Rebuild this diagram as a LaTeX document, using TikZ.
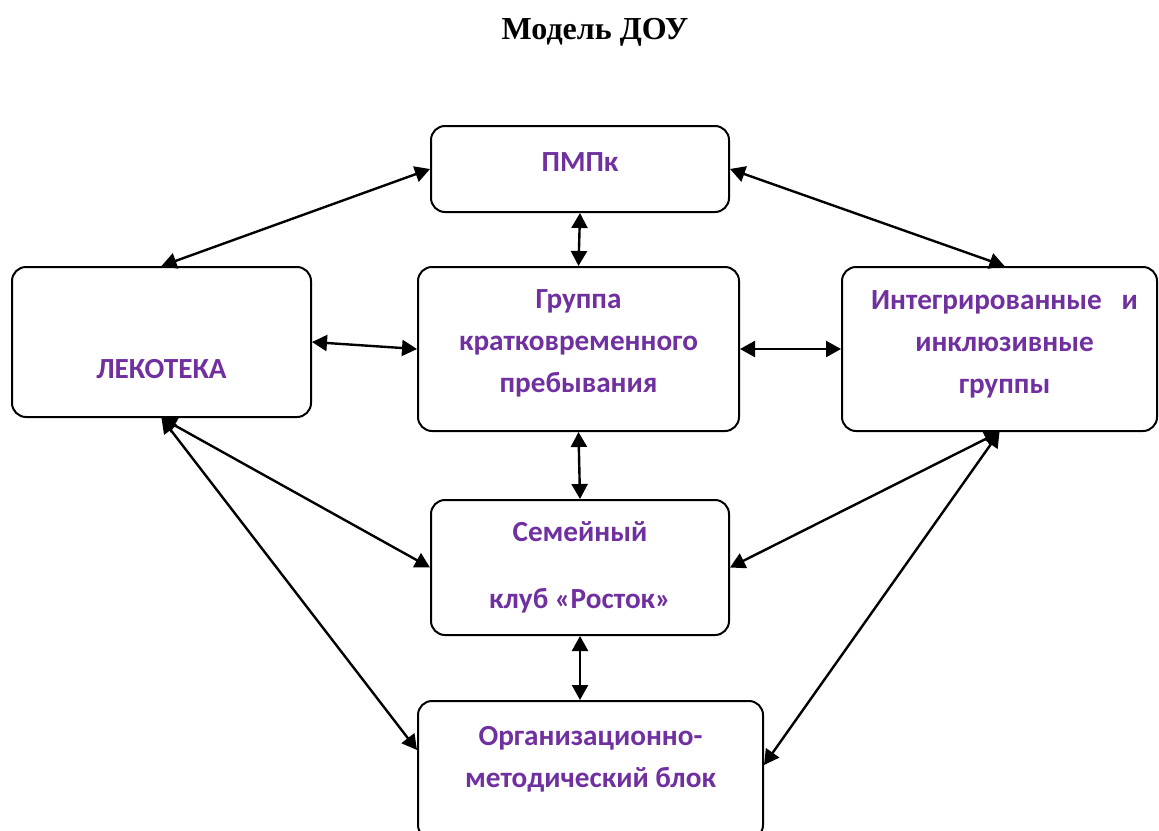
\documentclass[tikz,border=0pt]{standalone}
\usepackage{fontspec}
\setmainfont{Carlito}
\newfontfamily\titlefont{Liberation Serif}
\usetikzlibrary{arrows.meta}
\definecolor{labelviolet}{HTML}{7030A0}

\begin{document}
\begin{tikzpicture}[x=0.5pt, y=-0.5pt,
  box/.style={rectangle, draw, line width=1pt, rounded corners=7pt, fill=white, inner sep=0pt},
  lbl/.style={text=labelviolet, font=\bfseries\fontsize{14.6}{21}\selectfont, align=center},
  link/.style={{Triangle[length=7.5pt,width=8pt]}-{Triangle[length=7.5pt,width=8pt]}, line width=1.2pt}]

\useasboundingbox (0,0) rectangle (1159,830);
\clip (0,0) rectangle (1159,830);

\draw (595,32) node (title) [font=\titlefont\bfseries\fontsize{16}{19}\selectfont] {Модель ДОУ};

\draw (580,169) node (pmpk) [box, minimum width=149pt, minimum height=43pt] {};
\draw ([yshift=3.5pt]pmpk.center) node [lbl] {ПМПк};

\draw (161.5,342) node (lek) [box, minimum width=149.5pt, minimum height=75pt] {};
\draw ([yshift=-13.5pt]lek.center) node [lbl] {ЛЕКОТЕКА};

\draw (578.5,349) node (grp) [box, minimum width=160.5pt, minimum height=82pt] {};
\draw ([yshift=3pt]grp.center) node [lbl] {Группа\\кратковременного\\пребывания};

\draw (999.5,349) node (integ) [box, minimum width=157.5pt, minimum height=82pt] {};
\draw ([xshift=2.5pt, yshift=2.5pt]integ.center) node [lbl] {Интегрированные\ \ \ и\\инклюзивные\\группы};

\draw (580,567.5) node (fam) [box, minimum width=149pt, minimum height=67.5pt] {};
\draw (fam.center) node [lbl] {Семейный\\[12.5pt]клуб «Росток»};

\draw (590.5,770) node (org) [box, minimum width=172.5pt, minimum height=69pt] {};
\draw ([yshift=5.5pt]org.center) node [lbl] {Организационно-\\методический блок};

\draw [link] (pmpk.west) -- (lek.north);
\draw [link] (pmpk.east) -- ([xshift=2.5pt]integ.north);
\draw [link] (pmpk.south) -- (grp.north);

\draw [link] (lek.east) -- (grp.west);
\draw [link] (grp.east) -- (integ.west);
\draw [link] (grp.south) -- (fam.north);

\draw [link] (lek.south) -- (fam.west);
\draw [link] (lek.south) -- ([yshift=10pt]org.west);
\draw [link] (integ.south) -- (fam.east);
\draw [link] (integ.south) -- ([yshift=2.5pt]org.east);

\draw [link] (fam.south) -- ([xshift=-5.25pt]org.north);

\end{tikzpicture}
\end{document}
